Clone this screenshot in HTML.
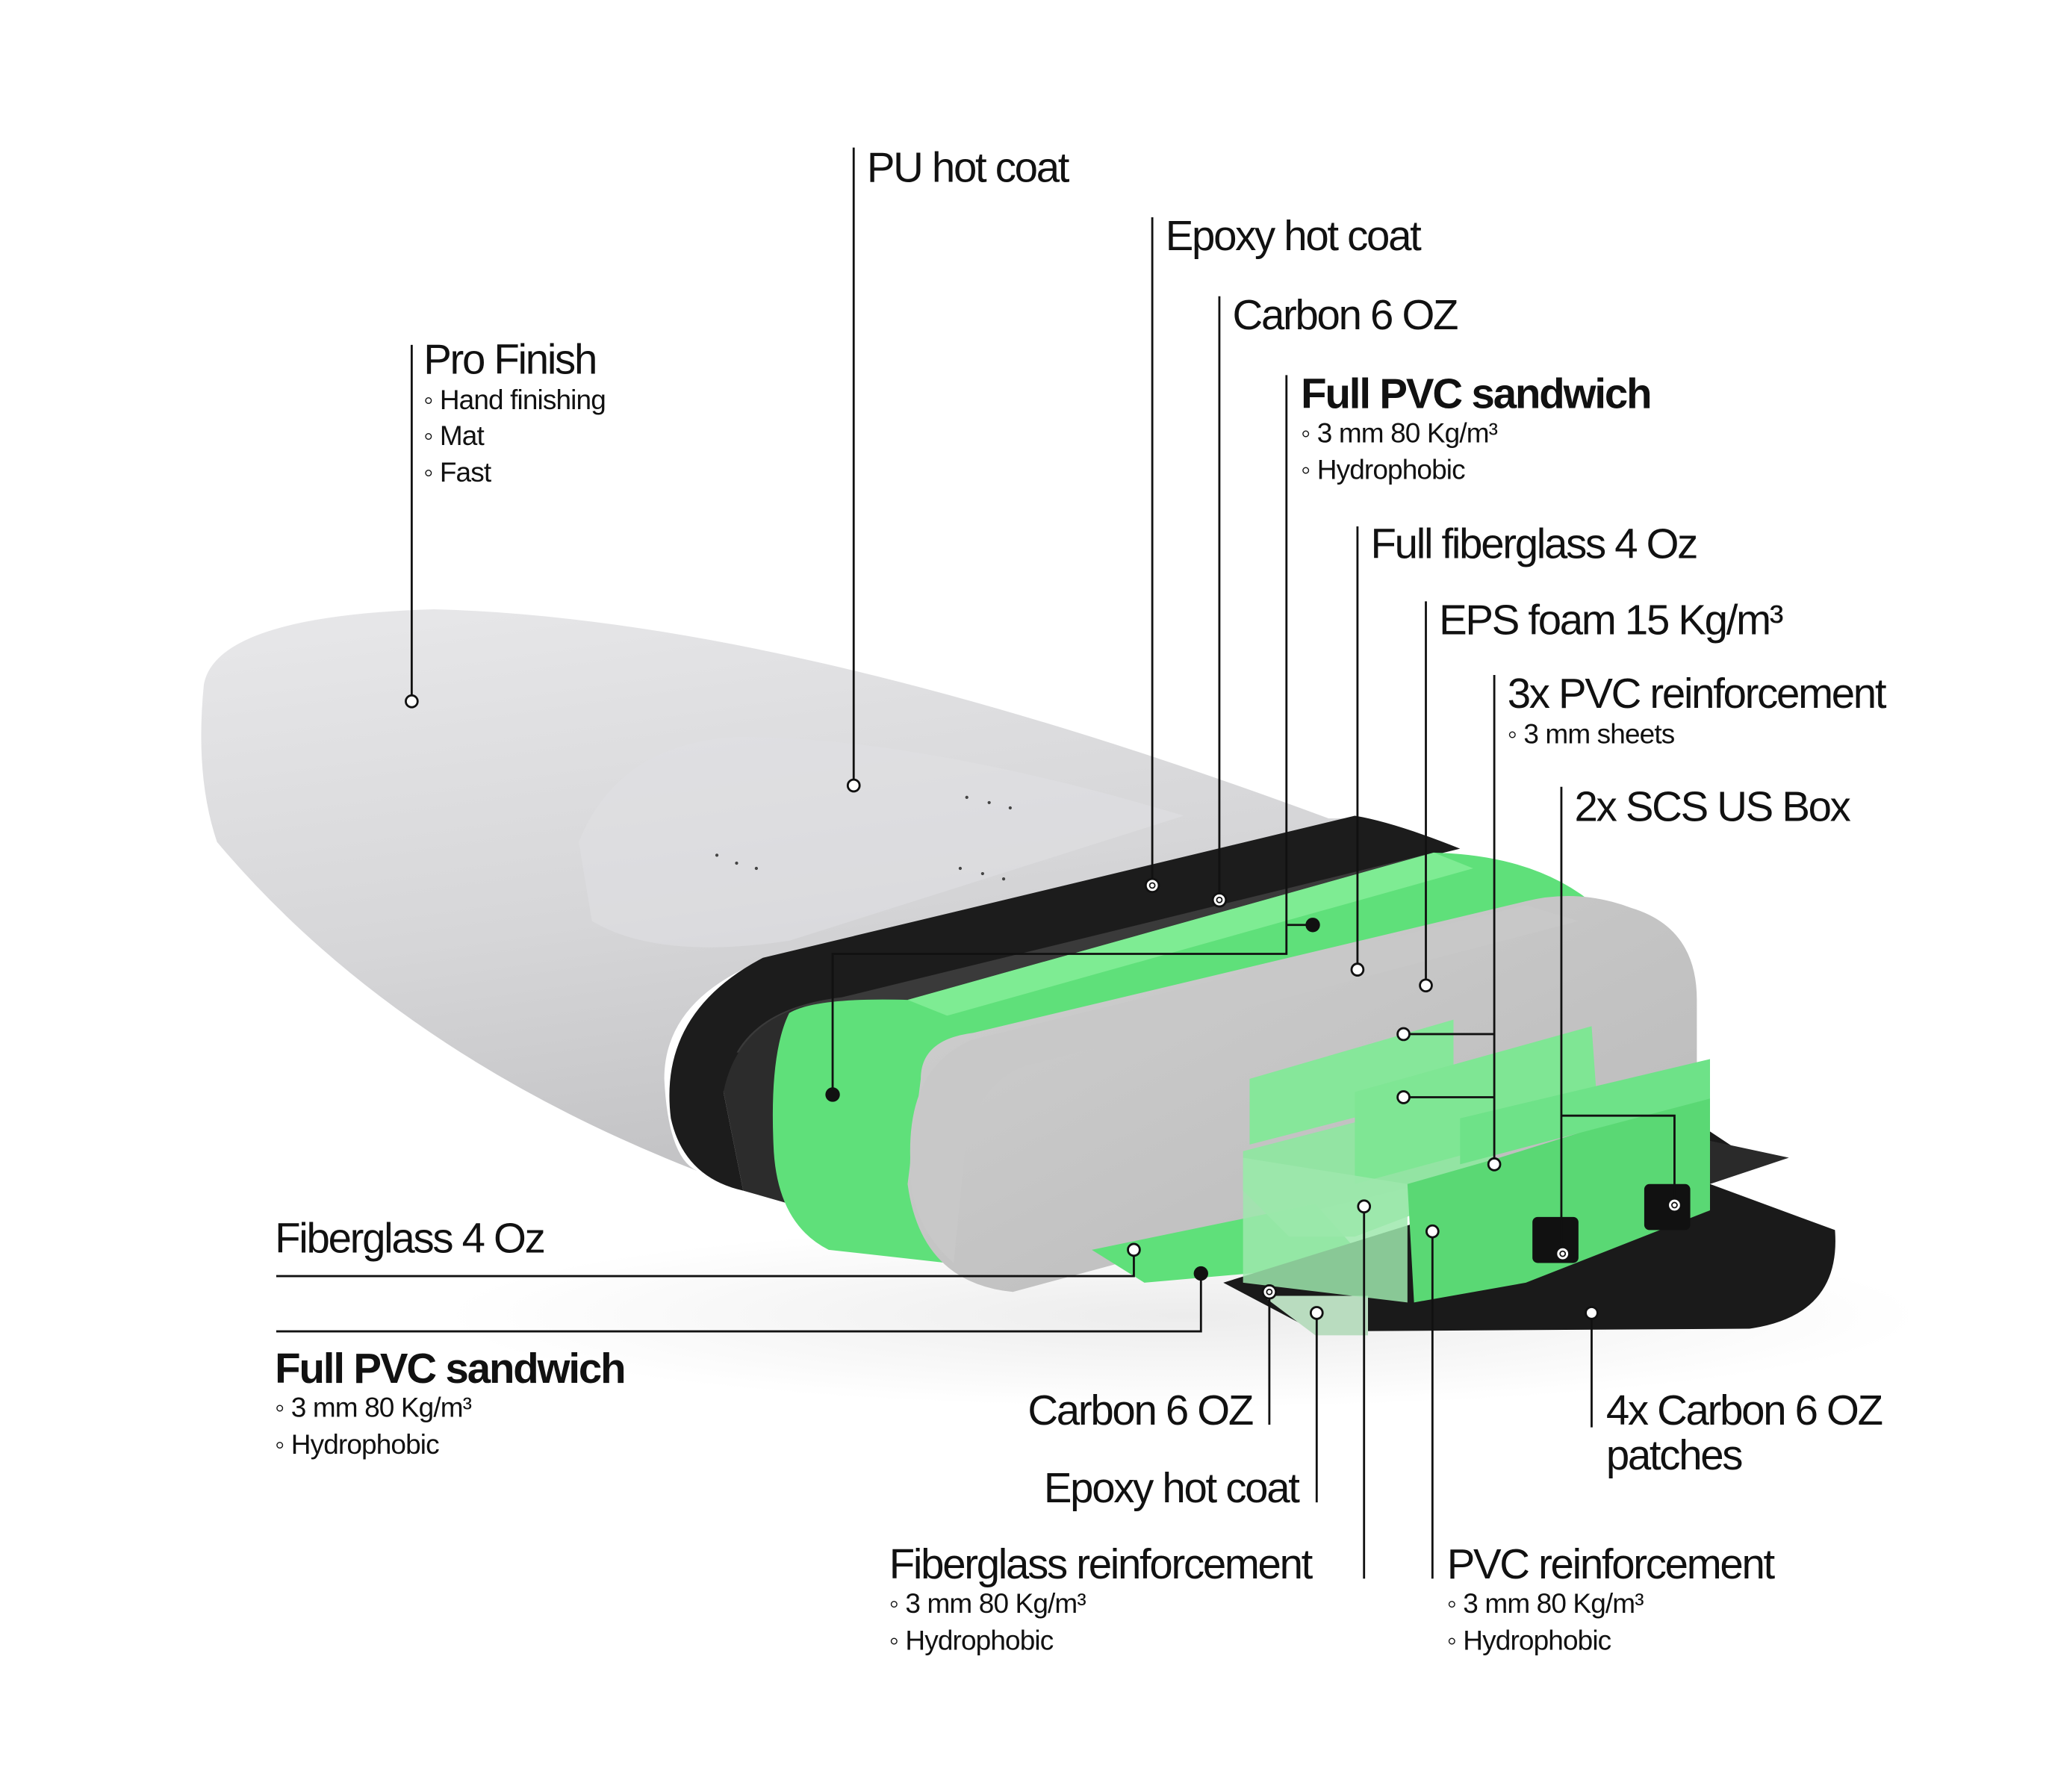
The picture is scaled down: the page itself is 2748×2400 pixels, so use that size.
<!DOCTYPE html>
<html><head><meta charset="utf-8"><style>
html,body{margin:0;padding:0;background:#fff}
svg{display:block}
text{font-family:"Liberation Sans",sans-serif;fill:#111}
.L{font-size:32px;letter-spacing:-1.3px}
.B{font-size:32px;font-weight:bold;letter-spacing:-1.2px}
.S{font-size:21px;letter-spacing:-0.5px}
.ln{stroke:#111;stroke-width:1.6;fill:none}
.oc{fill:#fff;stroke:#111;stroke-width:1.6}
</style></head><body>
<svg width="2748" height="2400" viewBox="0 0 1560 1362" xmlns="http://www.w3.org/2000/svg">
<defs>
<linearGradient id="wood" x1="0" y1="0" x2="0.3" y2="1">
<stop offset="0" stop-color="#e8e8ea"/><stop offset="0.6" stop-color="#d6d6d8"/><stop offset="1" stop-color="#c4c4c6"/>
</linearGradient>
<linearGradient id="foam" x1="0" y1="0" x2="1" y2="1">
<stop offset="0" stop-color="#d0d0d0"/><stop offset="1" stop-color="#b8b8b8"/>
</linearGradient>
<radialGradient id="sh" cx="0.5" cy="0.5" r="0.5">
<stop offset="0" stop-color="#ececec"/><stop offset="1" stop-color="#ffffff"/>
</radialGradient>
</defs>
<ellipse cx="900" cy="1000" rx="560" ry="70" fill="url(#sh)"/>
<path d="M155,520 Q165,468 330,463 Q600,470 1010,622 L1030,622 L580,730 Q505,760 505,820 Q508,880 530,890 Q300,800 165,640 Q148,590 155,520 Z" fill="url(#wood)"/>
<path d="M440,640 Q470,565 560,560 Q700,560 900,620 L600,715 Q500,730 450,700 Z" fill="#e0e0e2" opacity="0.6"/>
<path d="M580,728 L1030,620 Q1060,625 1110,645 L650,758 Q570,770 550,830 L565,905 Q520,895 510,850 Q500,770 580,728 Z" fill="#1c1c1c"/>
<path d="M640,758 L1090,648 L1120,660 L690,768 Q620,770 600,800 L560,800 Q580,765 640,758 Z" fill="#3a3a3a"/>
<path d="M550,830 Q560,780 610,765 L640,770 Q595,790 590,840 L600,915 L565,905 Z" fill="#2c2c2c"/>
<path d="M600,770 Q620,758 690,760 L1090,648 Q1170,650 1215,690 L760,800 L720,960 L630,950 Q590,930 588,870 Q585,800 600,770 Z" fill="#5fe07a"/>
<path d="M690,760 L1090,648 L1120,660 L720,772 Z" fill="#7eec93"/>
<path d="M700,820 Q700,790 740,785 L1160,685 Q1200,675 1240,690 Q1290,705 1290,760 L1290,850 L1000,920 L770,982 Q700,975 690,900 Z" fill="url(#foam)"/>
<path d="M740,790 L1160,688 L1200,700 L780,810 Q750,820 735,860 L725,960 Q690,930 692,880 Q690,810 740,790 Z" fill="#c8c8c8"/>
<path d="M830,950 L1000,915 L1040,960 L870,975 Z" fill="#5fe07a"/>
<path d="M930,975 L1300,860 L1330,880 L1300,900 L1395,935 Q1400,1000 1330,1010 L1000,1012 Z" fill="#1a1a1a"/>
<path d="M1290,865 L1360,880 L1300,900 Z" fill="#2a2a2a"/>
<path d="M960,985 L1040,985 L1040,1015 L1000,1015 Z" fill="#b9dcbf"/>
<path d="M945,905 L945,875 L1100,835 L1135,840 L1135,900 L1030,940 L980,940 Z" fill="#8ee8a0" opacity="0.9"/>
<path d="M950,870 L950,820 L1105,775 L1105,830 Z" fill="#86e79a"/>
<path d="M1030,900 L1030,830 L1210,780 L1215,850 Z" fill="#7fe694"/>
<path d="M945,880 L1070,900 L1070,990 L945,975 Z" fill="#9de8ad" opacity="0.85"/>
<path d="M1070,900 L1140,880 L1300,830 L1300,920 L1160,975 L1075,990 Z" fill="#5ad874"/>
<path d="M1110,850 L1300,805 L1300,835 L1110,885 Z" fill="#6ee288"/>
<rect x="1165" y="925" width="35" height="35" rx="4" fill="#111"/>
<rect x="1250" y="900" width="35" height="35" rx="4" fill="#111"/>
<g fill="#444"><circle cx="735" cy="606" r="1.2"/><circle cx="752" cy="610" r="1.2"/><circle cx="768" cy="614" r="1.2"/><circle cx="545" cy="650" r="1.2"/><circle cx="560" cy="656" r="1.2"/><circle cx="575" cy="660" r="1.2"/><circle cx="730" cy="660" r="1.2"/><circle cx="747" cy="664" r="1.2"/><circle cx="763" cy="668" r="1.2"/></g>

<g class="ln">
<path d="M313,262 V530"/>
<path d="M649,112 V594"/>
<path d="M876,165 V670"/>
<path d="M927,225 V681"/>
<path d="M978,285 V725 H633 V828"/>
<path d="M978,703 H994"/>
<path d="M1032,400 V734"/>
<path d="M1084,457 V746"/>
<path d="M1136,513 V882"/>
<path d="M1070,786 H1136 M1070,834 H1136"/>
<path d="M1187,598 V950"/>
<path d="M1187,848 H1273 V913"/>
<path d="M210,970 H862 V953"/>
<path d="M210,1012 H913 V968"/>
<path d="M965,985 V1083"/>
<path d="M1001,1001 V1142"/>
<path d="M1037,920 V1200"/>
<path d="M1089,939 V1200"/>
<path d="M1210,1001 V1085"/>
</g>
<g>
<circle class="oc" cx="313" cy="533" r="4.5"/>
<circle class="oc" cx="649" cy="597" r="4.5"/>
<circle class="oc" cx="876" cy="673" r="5"/><circle cx="876" cy="673" r="2" fill="none" stroke="#111"/>
<circle class="oc" cx="927" cy="684" r="5"/><circle cx="927" cy="684" r="2" fill="none" stroke="#111"/>
<circle cx="998" cy="703" r="5.5" fill="#111"/>
<circle cx="633" cy="832" r="5.5" fill="#111"/>
<circle class="oc" cx="1032" cy="737" r="4.5"/>
<circle class="oc" cx="1084" cy="749" r="4.5"/>
<circle class="oc" cx="1067" cy="786" r="4.5"/>
<circle class="oc" cx="1067" cy="834" r="4.5"/>
<circle class="oc" cx="1136" cy="885" r="4.5"/>
<circle class="oc" cx="1188" cy="953" r="5"/><circle cx="1188" cy="953" r="2" fill="none" stroke="#111"/>
<circle class="oc" cx="1273" cy="916" r="5"/><circle cx="1273" cy="916" r="2" fill="none" stroke="#111"/>
<circle class="oc" cx="862" cy="950" r="4.5"/>
<circle cx="913" cy="968" r="5.5" fill="#111"/>
<circle class="oc" cx="965" cy="982" r="5"/><circle cx="965" cy="982" r="2" fill="none" stroke="#111"/>
<circle class="oc" cx="1001" cy="998" r="4.5"/>
<circle class="oc" cx="1037" cy="917" r="4.5"/>
<circle class="oc" cx="1089" cy="936" r="4.5"/>
<circle class="oc" cx="1210" cy="998" r="4.5"/>
</g>

<text class="L" x="322" y="284">Pro Finish</text>
<text class="S" x="322" y="311">◦  Hand finishing</text>
<text class="S" x="322" y="338">◦  Mat</text>
<text class="S" x="322" y="366">◦  Fast</text>
<text class="L" x="659" y="138">PU hot coat</text>
<text class="L" x="886" y="190">Epoxy hot coat</text>
<text class="L" x="937" y="250">Carbon 6 OZ</text>
<text class="B" x="989" y="310">Full PVC sandwich</text>
<text class="S" x="989" y="336">◦  3 mm 80 Kg/m³</text>
<text class="S" x="989" y="364">◦  Hydrophobic</text>
<text class="L" x="1042" y="424">Full fiberglass 4 Oz</text>
<text class="L" x="1094" y="482">EPS foam 15 Kg/m³</text>
<text class="L" x="1146" y="538">3x PVC reinforcement</text>
<text class="S" x="1146" y="565">◦  3 mm sheets</text>
<text class="L" x="1197" y="624">2x SCS US Box</text>
<text class="L" x="209" y="952">Fiberglass 4 Oz</text>
<text class="B" x="209" y="1051">Full PVC sandwich</text>
<text class="S" x="209" y="1077">◦  3 mm 80 Kg/m³</text>
<text class="S" x="209" y="1105">◦  Hydrophobic</text>
<text class="L" x="952" y="1083" text-anchor="end">Carbon 6 OZ</text>
<text class="L" x="987" y="1142" text-anchor="end">Epoxy hot coat</text>
<text class="L" x="676" y="1200">Fiberglass reinforcement</text>
<text class="S" x="676" y="1226">◦  3 mm 80 Kg/m³</text>
<text class="S" x="676" y="1254">◦  Hydrophobic</text>
<text class="L" x="1100" y="1200">PVC reinforcement</text>
<text class="S" x="1100" y="1226">◦  3 mm 80 Kg/m³</text>
<text class="S" x="1100" y="1254">◦  Hydrophobic</text>
<text class="L" x="1221" y="1083">4x Carbon 6 OZ</text>
<text class="L" x="1221" y="1117">patches</text>
</svg>
</body></html>
